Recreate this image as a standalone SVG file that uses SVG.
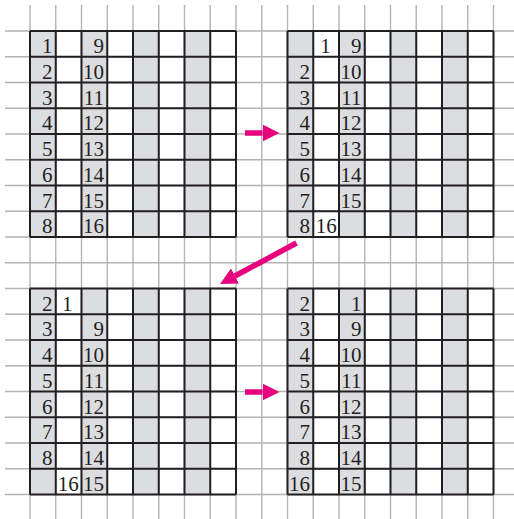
<svg xmlns="http://www.w3.org/2000/svg" xmlns:xlink="http://www.w3.org/1999/xlink" width="514" height="519" viewBox="0 0 514 519">
<style>
.bg{stroke:#b3b3b3;stroke-width:1.4;fill:none}
.gray{fill:#dcdde0}
.gl{stroke:#231f20;stroke-width:2;fill:none}
.t{font-family:"Liberation Serif","DejaVu Serif",serif;font-size:21px;fill:#231f20;text-anchor:end}
.arr{stroke:#e6007e;stroke-width:5.5;fill:none}
</style>
<defs>
<marker id="head" markerUnits="userSpaceOnUse" markerWidth="17" markerHeight="17" refX="0" refY="8.5" orient="auto" viewBox="0 0 17 17">
<path d="M0,0 L17,8.5 L0,17 z" fill="#e6007e"/>
</marker>
<g id="board">
<rect class="gray" x="0" y="0" width="25.75" height="206"/>
<rect class="gray" x="51.5" y="0" width="25.75" height="206"/>
<rect class="gray" x="103" y="0" width="25.75" height="206"/>
<rect class="gray" x="154.5" y="0" width="25.75" height="206"/>
<path class="gl" d="M0,0V206M25.75,0V206M51.5,0V206M77.25,0V206M103,0V206M128.75,0V206M154.5,0V206M180.25,0V206M206,0V206M0,0H206M0,25.75H206M0,51.5H206M0,77.25H206M0,103H206M0,128.75H206M0,154.5H206M0,180.25H206M0,206H206"/>
</g>
</defs>
<rect width="514" height="519" fill="#fff"/>
<g id="background">
<path class="bg" d="M30,5V519M55.75,5V519M81.5,5V519M107.25,5V519M133,5V519M158.75,5V519M184.5,5V519M210.25,5V519M236,5V519M261.75,5V519M287.5,5V519M313.25,5V519M339,5V519M364.75,5V519M390.5,5V519M416.25,5V519M442,5V519M467.75,5V519M493.5,5V519"/>
<path class="bg" d="M5,31H514M5,56.75H514M5,82.5H514M5,108.25H514M5,134H514M5,159.75H514M5,185.5H514M5,211.25H514M5,237H514M5,262.75H514M5,288.5H514M5,314.25H514M5,340H514M5,365.75H514M5,391.5H514M5,417.25H514M5,443H514M5,468.75H514M5,494.5H514"/>
</g>
<g id="grid1" transform="translate(30,31)">
<use xlink:href="#board" href="#board"/>
<text class="t" x="22.5" y="22">1</text>
<text class="t" x="22.5" y="47.75">2</text>
<text class="t" x="22.5" y="73.5">3</text>
<text class="t" x="22.5" y="99.25">4</text>
<text class="t" x="22.5" y="125">5</text>
<text class="t" x="22.5" y="150.75">6</text>
<text class="t" x="22.5" y="176.5">7</text>
<text class="t" x="22.5" y="202.25">8</text>
<text class="t" x="74" y="22">9</text>
<text class="t" x="74" y="47.75">10</text>
<text class="t" x="74" y="73.5">11</text>
<text class="t" x="74" y="99.25">12</text>
<text class="t" x="74" y="125">13</text>
<text class="t" x="74" y="150.75">14</text>
<text class="t" x="74" y="176.5">15</text>
<text class="t" x="74" y="202.25">16</text>
</g>
<g id="grid2" transform="translate(287.5,31)">
<use xlink:href="#board" href="#board"/>
<text class="t" x="43.3" y="22">1</text>
<text class="t" x="22.5" y="47.75">2</text>
<text class="t" x="22.5" y="73.5">3</text>
<text class="t" x="22.5" y="99.25">4</text>
<text class="t" x="22.5" y="125">5</text>
<text class="t" x="22.5" y="150.75">6</text>
<text class="t" x="22.5" y="176.5">7</text>
<text class="t" x="22.5" y="202.25">8</text>
<text class="t" x="49.3" y="202.25">16</text>
<text class="t" x="74" y="22">9</text>
<text class="t" x="74" y="47.75">10</text>
<text class="t" x="74" y="73.5">11</text>
<text class="t" x="74" y="99.25">12</text>
<text class="t" x="74" y="125">13</text>
<text class="t" x="74" y="150.75">14</text>
<text class="t" x="74" y="176.5">15</text>
</g>
<g id="grid3" transform="translate(30,288.5)">
<use xlink:href="#board" href="#board"/>
<text class="t" x="22.5" y="22">2</text>
<text class="t" x="22.5" y="47.75">3</text>
<text class="t" x="22.5" y="73.5">4</text>
<text class="t" x="22.5" y="99.25">5</text>
<text class="t" x="22.5" y="125">6</text>
<text class="t" x="22.5" y="150.75">7</text>
<text class="t" x="22.5" y="176.5">8</text>
<text class="t" x="42.5" y="22">1</text>
<text class="t" x="48.8" y="202.25">16</text>
<text class="t" x="74" y="47.75">9</text>
<text class="t" x="74" y="73.5">10</text>
<text class="t" x="74" y="99.25">11</text>
<text class="t" x="74" y="125">12</text>
<text class="t" x="74" y="150.75">13</text>
<text class="t" x="74" y="176.5">14</text>
<text class="t" x="74" y="202.25">15</text>
</g>
<g id="grid4" transform="translate(287.5,288.5)">
<use xlink:href="#board" href="#board"/>
<text class="t" x="22.5" y="22">2</text>
<text class="t" x="22.5" y="47.75">3</text>
<text class="t" x="22.5" y="73.5">4</text>
<text class="t" x="22.5" y="99.25">5</text>
<text class="t" x="22.5" y="125">6</text>
<text class="t" x="22.5" y="150.75">7</text>
<text class="t" x="22.5" y="176.5">8</text>
<text class="t" x="22.5" y="202.25">16</text>
<text class="t" x="74" y="22">1</text>
<text class="t" x="74" y="47.75">9</text>
<text class="t" x="74" y="73.5">10</text>
<text class="t" x="74" y="99.25">11</text>
<text class="t" x="74" y="125">12</text>
<text class="t" x="74" y="150.75">13</text>
<text class="t" x="74" y="176.5">14</text>
<text class="t" x="74" y="202.25">15</text>
</g>
<g id="connectors">
<path class="arr" d="M245,133H262.5" marker-end="url(#head)"/>
<path class="arr" d="M296.5,243L235,276" marker-end="url(#head)"/>
<path class="arr" d="M245,392H262.5" marker-end="url(#head)"/>
</g>
</svg>
